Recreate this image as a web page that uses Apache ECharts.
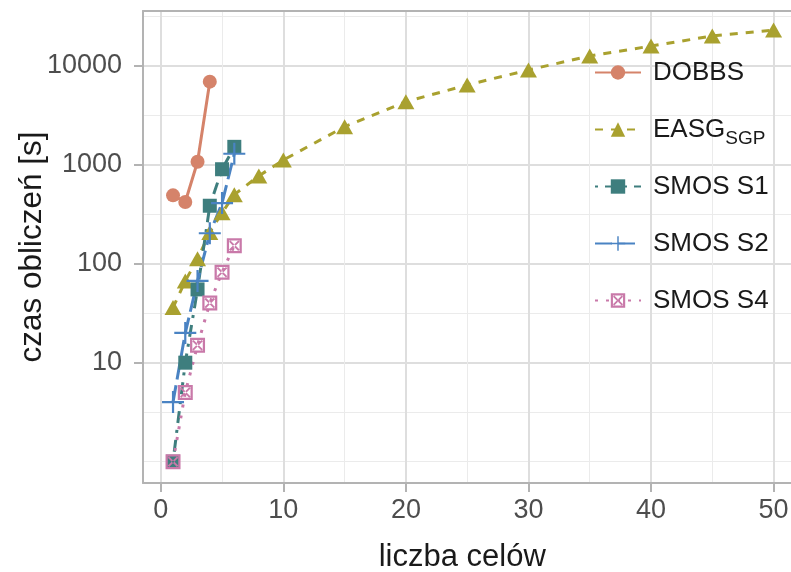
<!DOCTYPE html>
<html>
<head>
<meta charset="utf-8">
<script src="https://cdn.jsdelivr.net/npm/echarts@6/dist/echarts.min.js"></script>
<style>
  html, body { margin: 0; padding: 0; background: #fff; }
  #chart { width: 791px; height: 572px; }
</style>
</head>
<body>
<div id="chart"></div>
<script>
// --- 数据 ---
const dobbsX = [1, 2, 3, 4];
const dobbsY = [490, 420, 1070, 6900];
const easgX = [1, 2, 3, 4, 5, 6, 8, 10, 15, 20, 25, 30, 35, 40, 45, 50];
const easgY = [36, 67, 112, 207, 327, 498, 770, 1115, 2420, 4330, 6380, 9060, 12530, 15800, 19950, 22900];
const smosX = [1, 2, 3, 4, 5, 6];
const s1Y = [1, 10, 55, 385, 900, 1515];
const s2Y = [4, 20, 67, 203, 410, 1290];
const s4Y = [1, 5, 15, 40, 82, 152];
const xTicks = [0, 10, 20, 30, 40, 50];
const xMinor = [5, 15, 25, 35, 45];
const yTicks = [10, 100, 1000, 10000];
const yMinor = [1, 3.162, 31.62, 316.2, 3162, 31620];

const C = { dobbs: '#D5836A', easg: '#A9A12F', s1: '#3E7E7E', s2: '#4A83C3', s4: '#C979A9' };
const FONT = '"Liberation Sans", Arial, sans-serif';
const gridMajor = '#DEDEDE', gridMinor = '#EBEBEB', frame = '#B3B3B3';

const PLUS = 'path://M0,9 L9,9 L9,0 L11,0 L11,9 L20,9 L20,11 L11,11 L11,20 L9,20 L9,11 L0,11 Z';
const SQX = 'path://M0,0 L20,0 L20,20 L0,20 Z M3,3 L3,17 L17,17 L17,3 Z ' +
  'M3,4.8 L4.8,3 L17,15.2 L15.2,17 Z M17,4.8 L15.2,3 L3,15.2 L4.8,17 Z';

const pairs = (xs, ys) => xs.map((x, i) => [x, ys[i]]);
const frameLine = () => ({ show: true, onZero: false, lineStyle: { color: frame, width: 2 } });

const chart = echarts.init(document.getElementById('chart'));

chart.setOption({
  animation: false,
  backgroundColor: '#fff',
  grid: { left: 143, top: 11, width: 660.6, height: 472, outerBoundsMode: 'none', show: false },
  xAxis: [{
    type: 'value', min: -1.45, max: 52.45,
    name: 'liczba celów', nameLocation: 'middle', nameGap: 59, nameMoveOverlap: false,
    nameTextStyle: { fontFamily: FONT, fontSize: 31, color: '#1A1A1A', padding: [0, 22, 0, 0] },
    axisLine: frameLine(),
    axisTick: { show: true, length: 9, lineStyle: { color: frame, width: 2 }, customValues: xTicks },
    axisLabel: { customValues: xTicks, margin: 14, fontFamily: FONT, fontSize: 27, color: '#4D4D4D',
      formatter: v => String(v) },
    splitLine: { show: true, lineStyle: { color: gridMajor, width: 2 } },
  }, {
    // 上边框 + 次网格线
    type: 'value', position: 'top', min: -1.45, max: 52.45,
    axisLine: frameLine(), axisTick: { show: false, customValues: xMinor }, axisLabel: { show: false },
    splitLine: { show: true, lineStyle: { color: gridMinor, width: 1 } },
  }],
  yAxis: [{
    type: 'log', min: 0.609, max: 35700,
    name: 'czas obliczeń [s]', nameLocation: 'middle', nameGap: 95, nameMoveOverlap: false,
    nameTextStyle: { fontFamily: FONT, fontSize: 31.5, color: '#1A1A1A' },
    axisLine: frameLine(),
    axisTick: { show: true, length: 9, lineStyle: { color: frame, width: 2 }, customValues: yTicks },
    axisLabel: { customValues: yTicks, margin: 21, fontFamily: FONT, fontSize: 27, color: '#4D4D4D',
      formatter: v => String(Math.round(v)) },
    splitLine: { show: true, lineStyle: { color: gridMajor, width: 2 } },
  }, {
    // 次网格线：半个数量级
    type: 'log', min: 0.609, max: 35700, position: 'left',
    axisLine: { show: false, onZero: false }, axisTick: { show: false, customValues: yMinor }, axisLabel: { show: false },
    splitLine: { show: true, lineStyle: { color: gridMinor, width: 1 } },
  }],
  legend: {
    orient: 'vertical', left: 589, top: 49, itemWidth: 46, itemHeight: 18, itemGap: 20,
    data: ['DOBBS', 'EASG', 'SMOS S1', 'SMOS S2', 'SMOS S4'],
    formatter: n => (n === 'EASG' ? '{m|EASG}{s|SGP}' : n),
    textStyle: {
      fontFamily: FONT, fontSize: 26, color: '#1A1A1A', lineHeight: 37, padding: [0, 0, 0, 7],
      rich: {
        m: { fontFamily: FONT, fontSize: 26, color: '#1A1A1A', lineHeight: 37 },
        s: { fontFamily: FONT, fontSize: 19, color: '#1A1A1A', lineHeight: 19, padding: [18, 0, 0, 0] },
      },
    },
  },
  series: [
    { name: 'DOBBS', type: 'line', data: pairs(dobbsX, dobbsY), color: C.dobbs,
      symbol: 'circle', symbolSize: 14, lineStyle: { width: 3 } },
    { name: 'EASG', type: 'line', data: pairs(easgX, easgY), color: C.easg,
      symbol: 'triangle', symbolSize: [17, 15], lineStyle: { width: 3, type: [8, 8] } },
    { name: 'SMOS S1', type: 'line', data: pairs(smosX, s1Y), color: C.s1,
      symbol: 'rect', symbolSize: 14, lineStyle: { width: 3, type: [3, 7, 12, 7] } },
    { name: 'SMOS S2', type: 'line', data: pairs(smosX, s2Y), color: C.s2,
      symbol: PLUS, symbolSize: 22, lineStyle: { width: 3, type: [17, 6] } },
    { name: 'SMOS S4', type: 'line', data: pairs(smosX, s4Y), color: C.s4,
      symbol: SQX, symbolSize: 15, lineStyle: { width: 3, type: [3, 8] } },
  ],
});
</script>
</body>
</html>
